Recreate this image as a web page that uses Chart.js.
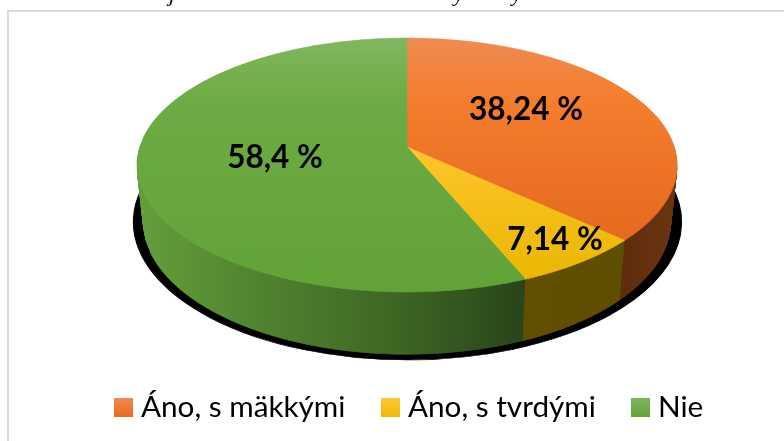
<!DOCTYPE html>
<html><head><meta charset="utf-8">
<style>
html,body{margin:0;padding:0;background:#fff;width:784px;height:441px;overflow:hidden}
#frame{position:absolute;left:7px;top:10px;right:-4px;bottom:-4px;border:2px solid #d9d9d9}
#wrap{position:absolute;left:0;top:0;width:784px;height:441px}
</style>
<script src="https://cdn.jsdelivr.net/npm/chart.js@4"></script>
</head><body>
<div id="frame"></div>
<div id="wrap"><canvas id="c" width="784" height="441"></canvas></div>
<script>
const categories = ['Áno, s mäkkými', 'Áno, s tvrdými', 'Nie'];
const values = [38.24, 7.14, 58.4];
const valueLabels = ['38,24 %', '7,14 %', '58,4 %'];
const baseColors = ['#ed7d31', '#ffc000', '#70ad47'];

// perspective of the disc
const CX = 407, APEX = 147, PA = 124.45, PK = 0.1417, PC = 267.3;
const LAYERS = 62, DROP = 55, YGROW = 0.05, SHRINK = 0.023;
const topStops = [
  [[0,'#ef8b52'],[0.3,'#f47e2e'],[1,'#e1641a']],
  [[0,'#ffd060'],[0.5,'#ffc62d'],[1,'#e9b600']],
  [[0,'#82b660'],[0.3,'#6dac44'],[1,'#62a338']]
];
const wallStops = [
  [[625,'#5f2d0c'],[677,'#6b3511']],
  [[527,'#624f00'],[625,'#5e4e00']],
  [[137,'#659f3b'],[250,'#518530'],[400,'#3e6523'],[527,'#284419']]
];
const swatchStops = [['#f08a50','#ec6a1c'],['#ffc53a','#f0ba00'],['#80b55f','#62a338']];
const labelPos = [[526,110],[555,240],[275,158]];
const legendX = [114,381,631];
const FONT = 'Lato, Carlito, Calibri, sans-serif';

function unitY(dy){ return -dy/(PA+PK*dy); }
function styled(el, fill, lw){
  return Object.create(el.options,{
    backgroundColor:{value:fill},borderColor:{value:fill},borderWidth:{value:lw}
  });
}
function yRange(el){
  const a0=el.startAngle,a1=el.endAngle;
  let lo=Math.min(0,-Math.sin(a0),-Math.sin(a1)),hi=Math.max(0,-Math.sin(a0),-Math.sin(a1));
  for(const k of [-1,0,1,2]){
    const b=Math.PI/2+k*2*Math.PI; if(b>=a0&&b<=a1) lo=-1;
    const t=-Math.PI/2+k*2*Math.PI; if(t>=a0&&t<=a1) hi=1;
  }
  return [lo,hi];
}
function drawBand(ctx, arcs, ranges, row, apex, scale, ys, fillFor){
  const Yt=unitY((row-apex)/ys),Yb=unitY((row+1-apex)/ys),Ym=(Yt+Yb)/2;
  const w=1+PK*Ym;
  const e0=arcs[0],R=e0.outerRadius;
  const yt=e0.y-R*Yt,yb=e0.y-R*Yb;
  const sy=1/(yb-yt),sx=PC*scale/(w*R),tx=CX-sx*e0.x,ty=row-yt*sy;
  ctx.save();
  ctx.setTransform(1,0,0,1,0,0);
  ctx.beginPath();ctx.rect(0,row,784,1);ctx.clip();
  ctx.setTransform(sx,0,0,sy,tx,ty);
  arcs.forEach((el,i)=>{
    const [lo,hi]=ranges[i];
    if(Yt<lo-0.01||Yb>hi+0.01) return;
    const saved=el.options;
    el.options=styled(el,fillFor(i,sx,tx),0.8);
    el.draw(ctx);
    el.options=saved;
  });
  ctx.restore();
}
const disc3d={
  id:'disc3d',
  beforeDatasetDraw(){return false;},
  afterDatasetsDraw(chart){
    const ctx=chart.ctx,arcs=chart.getDatasetMeta(0).data,e0=arcs[0],R=e0.outerRadius;
    const ranges=arcs.map(yRange);
    // cast shadow
    ctx.save();
    ctx.setTransform(274/R,0,0,138/R,407.5-274/R*e0.x,222-138/R*e0.y);
    arcs.forEach(el=>{
      const s=el.options;
      el.options=styled(el,'#000',1);el.draw(ctx);el.options=s;
    });
    ctx.restore();
    // side wall
    for(let t=LAYERS;t>=1;t--){
      const f=t/LAYERS,scale=1-SHRINK*f,ys=1+YGROW*f,ap=APEX+DROP*f;
      const fill=(i,sx,tx)=>{
        const st=wallStops[i],x0=st[0][0],x1=st[st.length-1][0];
        const g=ctx.createLinearGradient((x0-tx)/sx,0,(x1-tx)/sx,0);
        st.forEach(s=>g.addColorStop((s[0]-x0)/(x1-x0),s[1]));
        return g;
      };
      const r0=Math.floor(ap),r1=Math.ceil(ap+146*ys);
      for(let r=r0;r<=r1;r++) drawBand(ctx,arcs,ranges,r,ap,scale,ys,fill);
    }
    // top surface
    const grads=topStops.map(st=>{
      const g=ctx.createLinearGradient(0,e0.y-R,0,e0.y+R);
      st.forEach(s=>g.addColorStop(s[0],s[1]));return g;
    });
    for(let r=36;r<=293;r++) drawBand(ctx,arcs,ranges,r,APEX,1,1,i=>grads[i]);
    // value labels
    ctx.setTransform(1,0,0,1,0,0);
    ctx.fillStyle='#000';ctx.textAlign='center';ctx.textBaseline='middle';
    ctx.font='bold 31.5px '+FONT;
    valueLabels.forEach((s,i)=>ctx.fillText(s,labelPos[i][0],labelPos[i][1]));
    // legend
    ctx.textAlign='left';ctx.font='29.7px '+FONT;
    chart.data.labels.forEach((s,i)=>{
      const x=legendX[i],g=ctx.createLinearGradient(0,398,0,417);
      g.addColorStop(0,swatchStops[i][0]);g.addColorStop(1,swatchStops[i][1]);
      ctx.fillStyle=g;ctx.fillRect(x,398,19,19);
      ctx.fillStyle='#000';ctx.fillText(s,x+27,407);
    });
    // cut-off descenders of the line above
    ctx.font='italic 22px "Liberation Serif", serif';ctx.textAlign='center';ctx.textBaseline='alphabetic';
    [['j',172],['y',459],['y',517]].forEach(p=>ctx.fillText(p[0],p[1],1));
  }
};
new Chart(document.getElementById('c'),{
  type:'pie',
  data:{labels:categories,datasets:[{data:values,backgroundColor:baseColors,borderWidth:0}]},
  options:{responsive:false,animation:false,
    plugins:{legend:{display:false},tooltip:{enabled:false}}},
  plugins:[disc3d]
});
</script>
</body></html>
